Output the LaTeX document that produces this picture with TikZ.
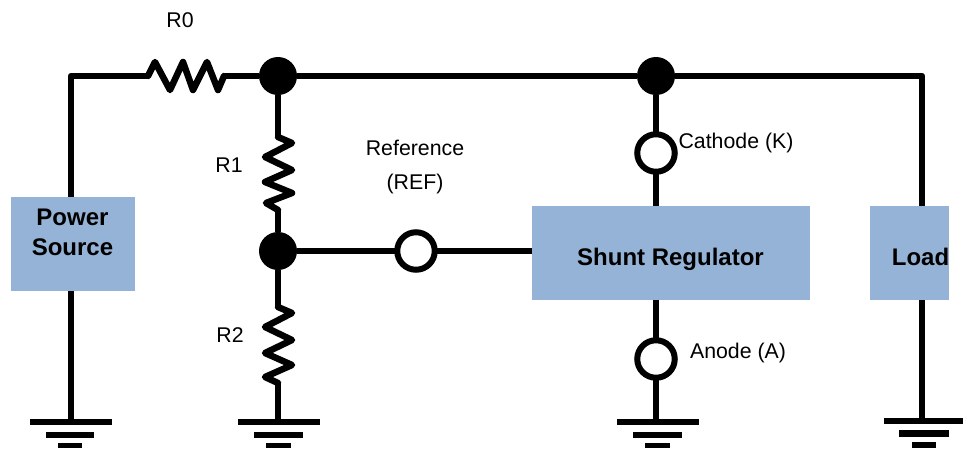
\documentclass[tikz,border=0pt]{standalone}
\usepackage{fontspec}
\setmainfont{Liberation Sans}
\definecolor{boxblue}{HTML}{95B3D7}
\tikzset{
  x=1pt,y=-1pt,
  wire/.style={line width=6.5pt,draw=black,line join=round},
  thinwire/.style={line width=5.5pt,draw=black,line join=round},
  zig/.style={line width=6.5pt,draw=black,line join=round,line cap=round},
  dotnode/.style={circle,fill=black,draw=none,minimum size=38pt,inner sep=0pt},
  opennode/.style={circle,fill=white,draw=black,line width=6pt,minimum size=37.5pt,inner sep=0pt,outer sep=0pt},
  blockbox/.style={rectangle,fill=boxblue,draw=none,inner sep=0pt},
  blocktext/.style={inner sep=0pt,align=center,font=\fontsize{24}{30}\selectfont\bfseries},
  lbl/.style={inner sep=0pt,align=center,font=\fontsize{21.3}{34}\selectfont},
  bar/.style={fill=black,draw=none},
}
\begin{document}
\begin{tikzpicture}
\useasboundingbox (0,0) rectangle (963,448);
% blocks
\node[blockbox,minimum width=124pt,minimum height=94pt] (ps) at (73,244) {};
\node[blockbox,minimum width=278pt,minimum height=94pt] (sr) at (671,253) {};
\node[blockbox,minimum width=79pt,minimum height=94pt] (load) at (909.5,253) {};
\node[blocktext] (tps) at (72.5,232) {Power\\Source};
\node[blocktext] (tsr) at (670.5,259) {Shunt Regulator};
\node[blocktext] (tload) at (920.5,257) {Load};
% junctions and terminals
\node[dotnode] (j1) at (278,76) {};
\node[dotnode] (j2) at (656,76) {};
\node[dotnode] (j3) at (278,251) {};
\node[opennode] (ref) at (416,251) {};
\node[opennode] (cat) at (656,153) {};
\node[opennode] (ano) at (656,359) {};
% free ends
\coordinate (c1) at (71,76);
\coordinate (c2) at (922,76);
\coordinate (r0a) at (148,76);
\coordinate (r0b) at (224,76);
\coordinate (r1a) at (278,137);
\coordinate (r1b) at (278,210);
\coordinate (r2a) at (278,307);
\coordinate (r2b) at (278,383);
\coordinate (g1) at (71,419);
\coordinate (g2) at (278,419);
\coordinate (g3) at (656,419);
\coordinate (g4) at (922,419);
% wires
\draw[wire] (ps.north -| c1) -- (c1) -- (r0a);
\draw[wire] (r0b) -- (j1.west);
\draw[wire] (j1.east) -- (j2.west);
\draw[wire] (j2.east) -- (c2) -- (c2 |- load.north);
\draw[wire] (j1.south) -- (r1a);
\draw[wire] (r1b) -- (j3.north);
\draw[wire] (j3.south) -- (r2a);
\draw[wire] (r2b) -- (g2);
\draw[wire] (j3.east) -- (ref.west);
\draw[wire] (ref.east) -- (ref.east -| sr.west);
\draw[wire] (j2.south) -- (cat.north);
\draw[wire] (cat.south) -- (cat.south |- sr.north);
\draw[wire] (ano.north |- sr.south) -- (ano.north);
\draw[wire] (ano.south) -- (g3);
\draw[thinwire] (ps.south -| g1) -- (g1);
\draw[thinwire] (load.south -| g4) -- (g4);
% resistors
\draw[zig] (r0a) -- (155,62) -- (170,90) -- (183,62) -- (193,90) -- (207,62) -- (218,90) -- (r0b);
\draw[zig] (r1a) -- (292,143) -- (265,157) -- (292,170) -- (265,182) -- (292,193) -- (266,203) -- (r1b);
\draw[zig] (r2a) -- (292,313) -- (265,327) -- (292,340) -- (265,353) -- (292,365) -- (265,377) -- (r2b);
% grounds
\fill[bar] (30,419) rectangle (112,425);
\fill[bar] (46,432) rectangle (94,437.5);
\fill[bar] (58,443) rectangle (82,448);
\fill[bar] (238,419) rectangle (320,425);
\fill[bar] (254,432) rectangle (303,437.5);
\fill[bar] (266,443) rectangle (291,448);
\fill[bar] (617,419) rectangle (699,425);
\fill[bar] (633,432) rectangle (682,437.5);
\fill[bar] (645,443) rectangle (670,448);
\fill[bar] (884,418) rectangle (963,424);
\fill[bar] (899,430) rectangle (949,436.5);
\fill[bar] (912,442) rectangle (936,448);
% labels
\node[lbl] (tr0) at (180,20) {R0};
\node[lbl] (tr1) at (229,165) {R1};
\node[lbl] (tr2) at (230,335) {R2};
\node[lbl] (tref) at (415,167) {Reference\\(REF)};
\node[lbl] (tcat) at (736,143) {Cathode (K)};
\node[lbl] (tano) at (738,353) {Anode (A)};
\end{tikzpicture}
\end{document}
